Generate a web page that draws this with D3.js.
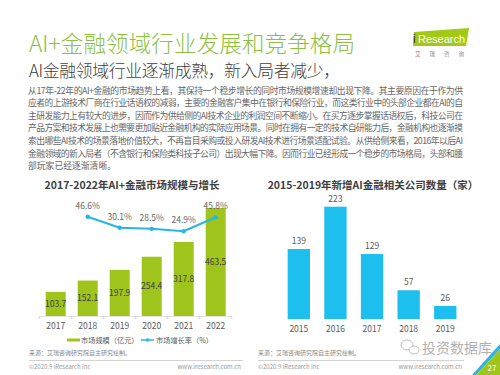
<!DOCTYPE html>
<html>
<head>
<meta charset="utf-8">
<script src="https://cdn.jsdelivr.net/npm/d3@7"></script>
<style>
body { margin: 0; background: #fff; }
svg { display: block; font-family: "Noto Sans CJK SC", "Noto Sans", sans-serif; }
</style>
</head>
<body>
<div id="wrapper"></div>
<script>
// page text
const pageTitle = "AI+金融领域行业发展和竞争格局";
const pageSubtitle = "AI金融领域行业逐渐成熟，新入局者减少，";
const bodyLines = [
  "从17年-22年的AI+金融的市场趋势上看，其保持一个稳步增长的同时市场规模增速却出现下降。其主要原因在于作为供",
  "应者的上游技术厂商在行业话语权的减弱，主要的金融客户集中在银行和保险行业，而这类行业中的头部企业都在AI的自",
  "主研发能力上有较大的进步，因而作为供给侧的AI技术企业的利润空间不断缩小。在买方逐步掌握话语权后，科技公司在",
  "产品方案和技术发展上也需要更加贴近金融机构的实际应用场景。同时在拥有一定的技术自研能力后，金融机构也逐渐摸",
  "索出哪些AI技术的场景落地价值较大，不再盲目采购或投入研发AI技术进行场景适配试验。从供给侧来看，2016年以后AI",
  "金融领域的新入局者（不含银行和保险类科技子公司）出现大幅下降。因而行业已经形成一个稳步的市场格局，头部和腰",
  "部玩家已经逐渐清晰。"
];

// left chart
const leftTitle = "2017-2022年AI+金融市场规模与增长";
const marketYears = ["2017", "2018", "2019", "2020", "2021", "2022"];
const marketSize = [103.7, 152.1, 197.9, 254.4, 317.8, 463.5];
const growthRate = [null, 46.6, 30.1, 28.5, 24.9, 45.8];
const legendLabels = ["市场规模（亿元）", "市场增长率（%）"];

// right chart
const rightTitle = "2015-2019年新增AI金融相关公司数量（家）";
const companyYears = ["2015", "2016", "2017", "2018", "2019"];
const newCompanies = [139, 223, 129, 57, 26];

const sourceText = "来源：艾瑞咨询研究院自主研究绘制。";
const copyText = "©2020.9 iResearch Inc";
const siteText = "www.iresearch.com.cn";

const green = "#9fc41c";
const cyan = "#1dbfee";
const lineBlue = "#27b5e5";
const textGray = "#595959";

const svg = d3.select("#wrapper").append("svg")
  .attr("width", 500)
  .attr("height", 375);

svg.append("rect").attr("width", 500).attr("height", 375).attr("fill", "#fff");

// header
svg.append("text")
  .attr("x", 29).attr("y", 52)
  .attr("font-size", 22.5)
  .attr("font-weight", 300)
  .attr("fill", "#8cc13f")
  .attr("textLength", 326)
  .attr("lengthAdjust", "spacing")
  .text(pageTitle);

svg.append("text")
  .attr("x", 29).attr("y", 77)
  .attr("font-size", 16.8)
  .attr("font-weight", 300)
  .attr("fill", "#404040")
  .attr("textLength", 311)
  .attr("lengthAdjust", "spacing")
  .text(pageSubtitle);

// logo
const logo = svg.append("g");
logo.append("polygon")
  .attr("points", "414,32 469,28 466,46 413,46")
  .attr("fill", "#a3c815");
logo.append("text")
  .attr("x", 413).attr("y", 43)
  .attr("font-size", 12).attr("font-family", "Liberation Sans")
  .attr("fill", "#333").text("i");
logo.append("text")
  .attr("x", 418).attr("y", 43)
  .attr("font-size", 11).attr("font-family", "Liberation Sans")
  .attr("fill", "#fff").text("Research");
logo.append("text")
  .attr("x", 415).attr("y", 56)
  .attr("font-size", 5.5)
  .attr("letter-spacing", 9)
  .attr("fill", "#888").text("艾瑞咨询");

// body paragraph
svg.append("g").selectAll("text")
  .data(bodyLines)
  .join("text")
  .attr("x", 28)
  .attr("y", (d, i) => 93.5 + i * 12.6)
  .attr("font-size", 8.8)
  .attr("fill", "#666")
  .attr("textLength", (d, i) => i < bodyLines.length - 1 ? 435 : null)
  .attr("lengthAdjust", "spacing")
  .text(d => d);

// ---------- left chart ----------
const left = svg.append("g");
const xLeft = d3.scaleBand()
  .domain(marketYears)
  .range([33.7, 237.7])
  .padding(0.375);
const yLeft = d3.scaleLinear()
  .domain([0, 500])
  .range([316, 199.5]);
const yRate = d3.scaleLinear()
  .domain([0, 50])
  .range([248, 214.4]);

left.append("text")
  .attr("x", 132).attr("y", 189)
  .attr("text-anchor", "middle")
  .attr("font-size", 10.5).attr("font-weight", "bold")
  .attr("fill", "#404040")
  .text(leftTitle);

// baseline with small ticks between bars
const leftEdge = xLeft(marketYears[0]) - xLeft.step() * xLeft.paddingInner() / 2;
left.append("line")
  .attr("x1", leftEdge)
  .attr("x2", leftEdge + marketYears.length * xLeft.step())
  .attr("y1", yLeft(0) + 0.5).attr("y2", yLeft(0) + 0.5)
  .attr("stroke", "#e3e3e3");
left.append("g").selectAll("line")
  .data(marketYears.concat(["end"]))
  .join("line")
  .attr("x1", (d, i) => leftEdge + i * xLeft.step())
  .attr("x2", (d, i) => leftEdge + i * xLeft.step())
  .attr("y1", yLeft(0)).attr("y2", yLeft(0) + 3)
  .attr("stroke", "#d0d0d0");

left.append("g").selectAll("rect")
  .data(marketSize)
  .join("rect")
  .attr("x", (d, i) => xLeft(marketYears[i]))
  .attr("y", d => yLeft(d))
  .attr("width", xLeft.bandwidth())
  .attr("height", d => yLeft(0) - yLeft(d))
  .attr("fill", green);

left.append("g").selectAll("text")
  .data(marketSize)
  .join("text")
  .attr("x", (d, i) => xLeft(marketYears[i]) + xLeft.bandwidth() / 2)
  .attr("y", d => (yLeft(d) + yLeft(0)) / 2 + 3)
  .attr("text-anchor", "middle")
  .attr("font-size", 8.5)
  .attr("fill", "#404040")
  .text(d => d.toFixed(1));

const rateData = growthRate.map((v, i) => ({ year: marketYears[i], v })).filter(d => d.v !== null);
const rateLine = d3.line()
  .x(d => xLeft(d.year) + xLeft.bandwidth() / 2)
  .y(d => yRate(d.v));

left.append("path")
  .attr("d", rateLine(rateData))
  .attr("fill", "none")
  .attr("stroke", lineBlue)
  .attr("stroke-width", 2);
left.append("g").selectAll("circle")
  .data(rateData)
  .join("circle")
  .attr("cx", d => xLeft(d.year) + xLeft.bandwidth() / 2)
  .attr("cy", d => yRate(d.v))
  .attr("r", 2.2)
  .attr("fill", lineBlue);
left.append("g").selectAll("text")
  .data(rateData)
  .join("text")
  .attr("x", d => xLeft(d.year) + xLeft.bandwidth() / 2)
  .attr("y", d => yRate(d.v) - 8)
  .attr("text-anchor", "middle")
  .attr("font-size", 8.5)
  .attr("fill", "#666")
  .text(d => d.v.toFixed(1) + "%");

left.append("g").selectAll("text")
  .data(marketYears)
  .join("text")
  .attr("x", d => xLeft(d) + xLeft.bandwidth() / 2)
  .attr("y", 329)
  .attr("text-anchor", "middle")
  .attr("font-size", 8.5)
  .attr("fill", textGray)
  .text(d => d);

// legend
left.append("rect")
  .attr("x", 67).attr("y", 338.5)
  .attr("width", 13).attr("height", 3)
  .attr("fill", green);
left.append("text")
  .attr("x", 81).attr("y", 343)
  .attr("font-size", 7.2).attr("fill", textGray)
  .text(legendLabels[0]);
left.append("line")
  .attr("x1", 141).attr("x2", 154)
  .attr("y1", 340).attr("y2", 340)
  .attr("stroke", lineBlue).attr("stroke-width", 1.5);
left.append("circle")
  .attr("cx", 147.5).attr("cy", 340).attr("r", 1.8)
  .attr("fill", lineBlue);
left.append("text")
  .attr("x", 156).attr("y", 343)
  .attr("font-size", 7.2).attr("fill", textGray)
  .text(legendLabels[1]);

// ---------- right chart ----------
const right = svg.append("g");
const xRight = d3.scaleBand()
  .domain(companyYears)
  .range([273.4, 470.7])
  .padding(0.39);
const yRight = d3.scaleLinear()
  .domain([0, 250])
  .range([319, 193.1]);

right.append("text")
  .attr("x", 373).attr("y", 189)
  .attr("text-anchor", "middle")
  .attr("font-size", 10.5).attr("font-weight", "bold")
  .attr("fill", "#404040")
  .text(rightTitle);

right.append("g").selectAll("rect")
  .data(newCompanies)
  .join("rect")
  .attr("x", (d, i) => xRight(companyYears[i]))
  .attr("y", d => yRight(d))
  .attr("width", xRight.bandwidth())
  .attr("height", d => yRight(0) - yRight(d))
  .attr("fill", cyan);

right.append("g").selectAll("text")
  .data(newCompanies)
  .join("text")
  .attr("x", (d, i) => xRight(companyYears[i]) + xRight.bandwidth() / 2)
  .attr("y", d => yRight(d) - 5)
  .attr("text-anchor", "middle")
  .attr("font-size", 8.5)
  .attr("fill", textGray)
  .text(d => d);

right.append("g").selectAll("text")
  .data(companyYears)
  .join("text")
  .attr("x", d => xRight(d) + xRight.bandwidth() / 2)
  .attr("y", 331.5)
  .attr("text-anchor", "middle")
  .attr("font-size", 8.5)
  .attr("fill", textGray)
  .text(d => d);

// ---------- footers ----------
function footer(x0, x1) {
  svg.append("text")
    .attr("x", x0).attr("y", 355)
    .attr("font-size", 6).attr("fill", "#888")
    .text(sourceText);
  svg.append("line")
    .attr("x1", x0).attr("x2", x1)
    .attr("y1", 360.5).attr("y2", 360.5)
    .attr("stroke", "#c8c8c8").attr("stroke-width", 0.8);
  svg.append("text")
    .attr("x", x0).attr("y", 369)
    .attr("font-size", 6).attr("fill", "#999")
    .text(copyText);
  svg.append("text")
    .attr("x", x1 - 2).attr("y", 369)
    .attr("text-anchor", "end")
    .attr("font-size", 6).attr("fill", "#999")
    .text(siteText);
}
footer(29, 243);
footer(258, 464);

// watermark
const wm = svg.append("g").attr("opacity", 0.75);
wm.append("ellipse").attr("cx", 407).attr("cy", 345).attr("rx", 6).attr("ry", 5)
  .attr("fill", "none").attr("stroke", "#aaa").attr("stroke-width", 1);
wm.append("ellipse").attr("cx", 414).attr("cy", 350).attr("rx", 5).attr("ry", 4)
  .attr("fill", "#fff").attr("stroke", "#aaa").attr("stroke-width", 1);
wm.append("text")
  .attr("x", 422).attr("y", 353)
  .attr("font-size", 14).attr("fill", "#999")
  .text("投资数据库");

// page corner
svg.append("polygon")
  .attr("points", "472,375 500,344 500,349 476,375")
  .attr("fill", "#2bb3e3");
svg.append("polygon")
  .attr("points", "476,375 500,349 500,375")
  .attr("fill", "#9fc41c");
svg.append("text")
  .attr("x", 492).attr("y", 371)
  .attr("text-anchor", "middle")
  .attr("font-size", 8).attr("fill", "#fff")
  .text("27");
</script>
</body>
</html>
